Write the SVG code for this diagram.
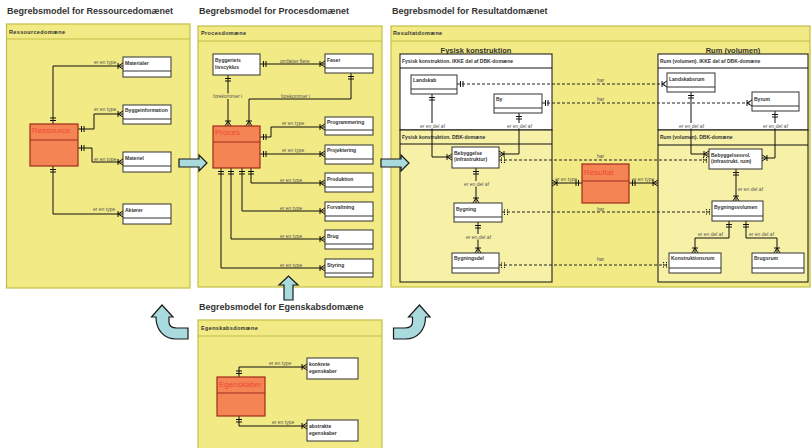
<svg xmlns="http://www.w3.org/2000/svg" width="811" height="448" viewBox="0 0 811 448">
<style>
text{font-family:"Liberation Sans",Arial,sans-serif}
.title{font-size:9px;font-weight:bold;fill:#333}
.panel{fill:#f2ea84;stroke:#c2be48;stroke-width:1.2}
.ph{stroke:#c2be48;stroke-width:1.2;fill:none}
.h{font-size:5.5px;font-weight:bold;fill:#333;letter-spacing:0.35px}
.sec{font-size:7.5px;font-weight:bold;fill:#333}
.bw{fill:#fff;stroke:#111;stroke-width:1}
.by{fill:#f6f1a6;stroke:#111;stroke-width:1}
.bh{stroke:#111;stroke-width:1;fill:none}
.bt{font-size:5px;font-weight:bold;fill:#333}
.ent{fill:#fff;stroke:#333;stroke-width:1}
.div{stroke:#333;stroke-width:1;fill:none}
.t{font-size:5px;font-weight:bold;fill:#333}
.core{fill:#f58454;stroke:#9e2a1c;stroke-width:1.2}
.cdiv{stroke:#9e2a1c;stroke-width:1;fill:none}
.ct{font-size:8px;fill:#f0493a}
.c{fill:none;stroke:#111;stroke-width:1}
.d{fill:none;stroke:#222;stroke-width:1;stroke-dasharray:3,2}
.l{font-size:5px;fill:#555}
.arr{fill:#a9dade;stroke:#1a1a1a;stroke-width:1.2}
</style>
<defs>
<marker id="one" viewBox="-10 -5 10 10" refX="0" refY="0" markerWidth="10" markerHeight="10" markerUnits="userSpaceOnUse" orient="auto-start-reverse"><path d="M-3.5,-3V3M-6,-3V3" stroke="#111" stroke-width="1" fill="none"/></marker>
<marker id="many" viewBox="-10 -5 10 10" refX="0" refY="0" markerWidth="10" markerHeight="10" markerUnits="userSpaceOnUse" orient="auto-start-reverse"><path d="M-5,-3V3M-5,0L0,-3M-5,0L0,3" stroke="#111" stroke-width="1" fill="none"/></marker>
<marker id="opt" viewBox="-10 -5 10 10" refX="0" refY="0" markerWidth="10" markerHeight="10" markerUnits="userSpaceOnUse" orient="auto-start-reverse"><path d="M-2.5,-3V3M-5.5,-3V3" stroke="#111" stroke-width="1" stroke-dasharray="1.2,1" fill="none"/></marker>
</defs>
<rect width="811" height="448" fill="#fff"/>

<!-- Titles -->
<text class="title" x="7" y="14">Begrebsmodel for Ressourcedomænet</text>
<text class="title" x="199" y="14">Begrebsmodel for Procesdomænet</text>
<text class="title" x="392" y="14">Begrebsmodel for Resultatdomænet</text>
<text class="title" x="199" y="310">Begrebsmodel for Egenskabsdomæne</text>

<!-- Panels -->
<g id="panel-ressource">
<rect class="panel" x="6.5" y="24" width="183.5" height="264"/>
<line class="ph" x1="6.5" y1="39" x2="190" y2="39"/>
<text class="h" x="9" y="34">Ressourcedomæne</text>
</g>
<g id="panel-proces">
<rect class="panel" x="198" y="26" width="184" height="261"/>
<line class="ph" x1="198" y1="41" x2="382" y2="41"/>
<text class="h" x="201" y="35">Procesdomæne</text>
</g>
<g id="panel-resultat">
<rect class="panel" x="391" y="26" width="419" height="261"/>
<line class="ph" x1="391" y1="41" x2="810" y2="41"/>
<text class="h" x="393" y="35">Resultatdomæne</text>
<text class="sec" x="476" y="52.5" text-anchor="middle">Fysisk konstruktion</text>
<text class="sec" x="733" y="52.5" text-anchor="middle">Rum (volumen)</text>
</g>
<g id="panel-egenskab">
<rect class="panel" x="198" y="320" width="184" height="140"/>
<line class="ph" x1="198" y1="336" x2="382" y2="336"/>
<text class="h" x="201" y="330">Egenskabsdomæne</text>
</g>

<!-- Sub-boxes in Resultat -->
<g id="fysisk-ikke">
<rect class="bw" x="400" y="54" width="152" height="76"/>
<line class="bh" x1="400" y1="68" x2="552" y2="68"/>
<text class="bt" x="402" y="62.5">Fysisk konstruktion. IKKE del af DBK-domæne</text>
</g>
<g id="fysisk-dbk">
<rect class="by" x="400" y="130" width="152" height="152"/>
<line class="bh" x1="400" y1="144" x2="552" y2="144"/>
<text class="bt" x="402" y="138.5">Fysisk konstruktion. DBK-domæne</text>
</g>
<g id="rum-ikke">
<rect class="bw" x="658" y="54" width="150" height="76"/>
<line class="bh" x1="658" y1="68" x2="808" y2="68"/>
<text class="bt" x="660" y="62.5">Rum (volumen). IKKE del af DBK-domæne</text>
</g>
<g id="rum-dbk">
<rect class="by" x="658" y="130" width="150" height="152"/>
<line class="bh" x1="658" y1="145" x2="808" y2="145"/>
<text class="bt" x="660" y="139">Rum (volumen). DBK-domæne</text>
</g>

<!-- Block arrows -->
<g id="arrows">
<path class="arr" d="M179,159 H199 V155 L207,163 L199,171 V167 H179 Z"/>
<path class="arr" d="M381,159 H401 V155 L409,163 L401,171 V167 H381 Z"/>
<path class="arr" d="M284,300 V285 H279 L288.5,276 L298,285 H293 V300 Z"/>
<path class="arr" d="M162,305 L173,317 L169,317 L169,322 C169,326 172,328 177,328 L188,328 L188,339 L176,339 C164,339 156,330 156,317 L151.5,317 Z"/>
<path class="arr" d="M419.5,305 L408.5,317 L412.5,317 L412.5,322 C412.5,326 409.5,328 404.5,328 L393.5,328 L393.5,339 L405.5,339 C417.5,339 425.5,330 425.5,317 L430,317 Z"/>
</g>

<!-- Connectors -->
<g id="connectors">
<!-- Ressource -->
<polyline class="c" points="53,124 53,66 123,66" marker-start="url(#one)" marker-end="url(#many)"/>
<polyline class="c" points="78,129 94,129 94,114 123,114" marker-start="url(#one)" marker-end="url(#many)"/>
<polyline class="c" points="78,148 92,148 92,162 123,162" marker-start="url(#one)" marker-end="url(#many)"/>
<polyline class="c" points="53,166 53,214 123,214" marker-start="url(#one)" marker-end="url(#many)"/>
<text class="l" x="94" y="63.5">er en type</text>
<text class="l" x="94" y="111">er en type</text>
<text class="l" x="94" y="160.5">er en type</text>
<text class="l" x="93" y="211">er en type</text>
<!-- Proces -->
<polyline class="c" points="260,64 325,64" marker-start="url(#one)" marker-end="url(#many)"/>
<polyline class="c" points="228,75 228,126" marker-start="url(#one)" marker-end="url(#many)"/>
<polyline class="c" points="351,73 351,99 249,99 249,126" marker-start="url(#one)" marker-end="url(#many)"/>
<polyline class="c" points="260,137 271,137 271,127 325,127" marker-start="url(#one)" marker-end="url(#many)"/>
<polyline class="c" points="260,154 325,154" marker-start="url(#one)" marker-end="url(#many)"/>
<polyline class="c" points="251,168 251,183 325,183" marker-start="url(#one)" marker-end="url(#many)"/>
<polyline class="c" points="242,168 242,211 325,211" marker-start="url(#one)" marker-end="url(#many)"/>
<polyline class="c" points="231,168 231,239 325,239" marker-start="url(#one)" marker-end="url(#many)"/>
<polyline class="c" points="221,168 221,268 325,268" marker-start="url(#one)" marker-end="url(#many)"/>
<text class="l" x="280" y="62.5">omfatter flere</text>
<rect x="212" y="93.5" width="32" height="5.5" fill="#f2ea84"/>
<text class="l" x="213" y="98">forekommer  i</text>
<text class="l" x="281" y="97.5">forekommer  i</text>
<text class="l" x="282" y="125">er en type</text>
<text class="l" x="282" y="152">er en type</text>
<text class="l" x="280" y="181.5">er en type</text>
<text class="l" x="280" y="209.5">er en type</text>
<text class="l" x="280" y="237.5">er en type</text>
<text class="l" x="280" y="266.5">er en type</text>
<!-- Egenskaber -->
<polyline class="c" points="239,377 239,367 307,367" marker-start="url(#one)" marker-end="url(#many)"/>
<polyline class="c" points="239,416 239,426 307,426" marker-start="url(#one)" marker-end="url(#many)"/>
<text class="l" x="269" y="365">er en type</text>
<text class="l" x="272" y="424">er en type</text>
<!-- Resultat: har -->
<polyline class="d" points="457,84 667,84" marker-start="url(#one)" marker-end="url(#many)"/>
<polyline class="d" points="542,103 752,103" marker-start="url(#one)" marker-end="url(#many)"/>
<polyline class="d" points="499,160 709,160" marker-start="url(#opt)" marker-end="url(#opt)"/>
<polyline class="d" points="502,212 712,212" marker-start="url(#opt)" marker-end="url(#opt)"/>
<polyline class="d" points="499,265 669,265" marker-start="url(#opt)" marker-end="url(#opt)"/>
<text class="l" x="597" y="81.5">har</text>
<text class="l" x="597" y="100.5">har</text>
<text class="l" x="597" y="157.5">har</text>
<text class="l" x="597" y="210.5">har</text>
<text class="l" x="597" y="261">har</text>
<!-- Resultat: er en del af -->
<polyline class="c" points="432,94 432,157 452,157" marker-start="url(#one)" marker-end="url(#many)"/>
<polyline class="c" points="519,113 519,154 499,154" marker-start="url(#one)" marker-end="url(#many)"/>
<polyline class="c" points="476,168 476,203" marker-start="url(#one)" marker-end="url(#many)"/>
<polyline class="c" points="478,222 478,253" marker-start="url(#one)" marker-end="url(#many)"/>
<polyline class="c" points="691,92 691,154 709,154" marker-start="url(#one)" marker-end="url(#many)"/>
<polyline class="c" points="775,111 775,158 762,158" marker-start="url(#one)" marker-end="url(#many)"/>
<polyline class="c" points="736,169 736,201" marker-start="url(#one)" marker-end="url(#many)"/>
<polyline class="c" points="729,221 729,238 695,238 695,253" marker-start="url(#one)" marker-end="url(#many)"/>
<polyline class="c" points="746,221 746,238 777,238 777,253" marker-start="url(#one)" marker-end="url(#many)"/>
<polyline class="c" points="582,183 552,183" marker-start="url(#one)" marker-end="url(#many)"/>
<polyline class="c" points="629,183 658,183" marker-start="url(#one)" marker-end="url(#many)"/>
<rect x="419.5" y="123" width="26" height="5.5" fill="#fff"/>
<text class="l" x="420" y="127.5">er en del af</text>
<rect x="506.5" y="123" width="26" height="5.5" fill="#fff"/>
<text class="l" x="507" y="127.5">er en del af</text>
<rect x="678.5" y="123" width="26" height="5.5" fill="#fff"/>
<text class="l" x="679" y="127.5">er en del af</text>
<rect x="762.5" y="123" width="26" height="5.5" fill="#fff"/>
<text class="l" x="763" y="127.5">er en del af</text>
<rect x="463.5" y="181" width="26" height="5.5" fill="#f6f1a6"/>
<text class="l" x="464" y="185.5">er en del af</text>
<rect x="465.5" y="234" width="26" height="5.5" fill="#f6f1a6"/>
<text class="l" x="466" y="238.5">er en del af</text>
<text class="l" x="738" y="190.5">er en del af</text>
<text class="l" x="698" y="236">er en del af</text>
<text class="l" x="749" y="236">er en del af</text>
<text class="l" x="555" y="181">er en type</text>
<text class="l" x="632" y="181">er en type</text>
</g>

<!-- Ressource nodes -->
<g id="ressource"><rect class="core" x="30" y="124" width="48" height="42"/><line class="cdiv" x1="30" y1="140" x2="78" y2="140"/><text class="ct" x="32" y="133">Ressource</text></g>
<g id="materialer"><rect class="ent" x="123" y="57" width="48" height="20"/><line class="div" x1="123" y1="71" x2="171" y2="71"/><text class="t" x="125" y="64.5">Materialer</text></g>
<g id="byggeinformation"><rect class="ent" x="123" y="105" width="48" height="19"/><line class="div" x1="123" y1="119" x2="171" y2="119"/><text class="t" x="125" y="112">Byggeinformation</text></g>
<g id="materiel"><rect class="ent" x="123" y="152" width="48" height="20"/><line class="div" x1="123" y1="166" x2="171" y2="166"/><text class="t" x="125" y="159.5">Materiel</text></g>
<g id="aktoerer"><rect class="ent" x="123" y="204" width="48" height="20"/><line class="div" x1="123" y1="218" x2="171" y2="218"/><text class="t" x="125" y="211.5">Aktører</text></g>

<!-- Proces nodes -->
<g id="livscyklus"><rect class="ent" x="213" y="54" width="47" height="21"/><text class="t" x="215" y="62">Byggeriets</text><text class="t" x="215" y="69">livscyklus</text></g>
<g id="faser"><rect class="ent" x="325" y="54" width="48" height="19"/><line class="div" x1="325" y1="68" x2="373" y2="68"/><text class="t" x="327" y="62">Faser</text></g>
<g id="proces"><rect class="core" x="213" y="126" width="47" height="42"/><line class="cdiv" x1="213" y1="142" x2="260" y2="142"/><text class="ct" x="215" y="135">Proces</text></g>
<g id="programmering"><rect class="ent" x="325" y="117" width="48" height="18"/><line class="div" x1="325" y1="130" x2="373" y2="130"/><text class="t" x="327" y="124">Programmering</text></g>
<g id="projektering"><rect class="ent" x="325" y="145" width="48" height="19"/><line class="div" x1="325" y1="159" x2="373" y2="159"/><text class="t" x="327" y="152">Projektering</text></g>
<g id="produktion"><rect class="ent" x="325" y="173" width="48" height="19"/><line class="div" x1="325" y1="187" x2="373" y2="187"/><text class="t" x="327" y="181">Produktion</text></g>
<g id="forvaltning"><rect class="ent" x="325" y="202" width="48" height="19"/><line class="div" x1="325" y1="216" x2="373" y2="216"/><text class="t" x="327" y="209">Forvaltning</text></g>
<g id="brug"><rect class="ent" x="325" y="230" width="48" height="19"/><line class="div" x1="325" y1="244" x2="373" y2="244"/><text class="t" x="327" y="238">Brug</text></g>
<g id="styring"><rect class="ent" x="325" y="259" width="48" height="18"/><line class="div" x1="325" y1="273" x2="373" y2="273"/><text class="t" x="327" y="267">Styring</text></g>

<!-- Egenskab nodes -->
<g id="egenskaber"><rect class="core" x="217" y="377" width="48" height="39"/><line class="cdiv" x1="217" y1="393" x2="265" y2="393"/><text class="ct" x="219" y="387">Egenskaber</text></g>
<g id="konkrete"><rect class="ent" x="307" y="358" width="51" height="21"/><text class="t" x="309" y="365.5" font-weight="normal">konkrete</text><text class="t" x="309" y="372.5" font-weight="normal">egenskaber</text></g>
<g id="abstrakte"><rect class="ent" x="307" y="420" width="51" height="21"/><text class="t" x="309" y="427.5" font-weight="normal">abstrakte</text><text class="t" x="309" y="434.5" font-weight="normal">egenskaber</text></g>

<!-- Resultat nodes -->
<g id="landskab"><rect class="ent" x="411" y="75" width="46" height="19"/><line class="div" x1="411" y1="89" x2="457" y2="89"/><text class="t" x="413" y="82">Landskab</text></g>
<g id="by"><rect class="ent" x="494" y="94" width="48" height="19"/><line class="div" x1="494" y1="108" x2="542" y2="108"/><text class="t" x="496" y="101">By</text></g>
<g id="bebyggelse"><rect class="ent" x="452" y="147" width="47" height="21"/><text class="t" x="454" y="154.5">Bebyggelse</text><text class="t" x="454" y="161">(infrastruktur)</text></g>
<g id="bygning"><rect class="ent" x="454" y="203" width="48" height="19"/><line class="div" x1="454" y1="217" x2="502" y2="217"/><text class="t" x="456" y="211">Bygning</text></g>
<g id="bygningsdel"><rect class="ent" x="452" y="253" width="47" height="20"/><line class="div" x1="452" y1="268" x2="499" y2="268"/><text class="t" x="454" y="260">Bygningsdel</text></g>
<g id="resultat"><rect class="core" x="582" y="164" width="47" height="39"/><line class="cdiv" x1="582" y1="181" x2="629" y2="181"/><text class="ct" x="584" y="174.5">Resultat</text></g>
<g id="landskabsrum"><rect class="ent" x="667" y="73" width="48" height="19"/><line class="div" x1="667" y1="87" x2="715" y2="87"/><text class="t" x="669" y="81">Landskabsrum</text></g>
<g id="byrum"><rect class="ent" x="752" y="92" width="47" height="19"/><line class="div" x1="752" y1="106" x2="799" y2="106"/><text class="t" x="754" y="100.5">Byrum</text></g>
<g id="bebyggelsesvol"><rect class="ent" x="709" y="149" width="53" height="20"/><text class="t" x="711" y="156.5">Bebyggelsesvol.</text><text class="t" x="711" y="163">(infrastrukt. rum)</text></g>
<g id="bygningsvolumen"><rect class="ent" x="712" y="201" width="51" height="20"/><line class="div" x1="712" y1="216" x2="763" y2="216"/><text class="t" x="714" y="209">Bygningsvolumen</text></g>
<g id="konstruktionsrum"><rect class="ent" x="669" y="253" width="52" height="20"/><line class="div" x1="669" y1="268" x2="721" y2="268"/><text class="t" x="671" y="260">Konstruktionsrum</text></g>
<g id="brugsrum"><rect class="ent" x="752" y="253" width="52" height="20"/><line class="div" x1="752" y1="268" x2="804" y2="268"/><text class="t" x="754" y="260">Brugsrum</text></g>
</svg>
